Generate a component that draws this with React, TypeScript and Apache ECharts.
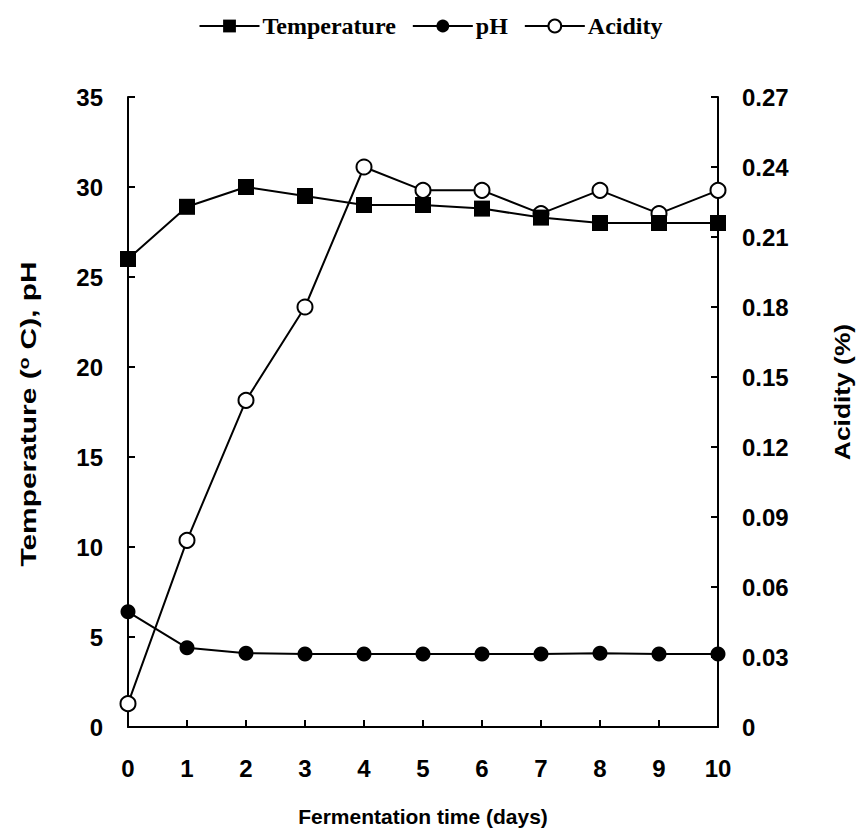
import React, { useEffect, useRef } from "react";
import * as echarts from "echarts";

const days = [0, 1, 2, 3, 4, 5, 6, 7, 8, 9, 10];
const temperature = [26, 28.9, 30, 29.5, 29, 29, 28.8, 28.3, 28, 28, 28];
const ph = [6.4, 4.4, 4.1, 4.05, 4.05, 4.05, 4.05, 4.05, 4.1, 4.05, 4.05];
const acidity = [0.01, 0.08, 0.14, 0.18, 0.24, 0.23, 0.23, 0.22, 0.23, 0.22, 0.23];

const SANS = "Liberation Sans, Arial, sans-serif";
const SERIF = "Liberation Serif, Times New Roman, serif";

export default function App() {
  const ref = useRef<HTMLDivElement>(null);
  useEffect(() => {
    if (!ref.current) return;
    const chart = echarts.init(ref.current, null, { renderer: "svg" });
    const pair = (arr: number[]) => days.map((d, i) => [d, arr[i]]);
    const axisLabel = { color: "#000", fontFamily: SANS, fontWeight: "bold" as const, fontSize: 24 };
    chart.setOption({
      animation: false,
      backgroundColor: "#fff",
      legend: {
        top: 9,
        left: "center",
        itemWidth: 60,
        itemHeight: 16,
        itemGap: 16,
        textStyle: { color: "#000", fontFamily: SERIF, fontWeight: "bold", fontSize: 24, padding: [0, 0, 0, -2] },
        data: ["Temperature", "pH", "Acidity"],
      },
      grid: { left: 128, right: 143, top: 97, bottom: 112 },
      xAxis: {
        type: "value",
        min: 0,
        max: 10,
        interval: 1,
        name: "Fermentation time (days)",
        nameLocation: "middle",
        nameGap: 79,
        nameTextStyle: { color: "#000", fontFamily: SANS, fontWeight: "bold", fontSize: 21 },
        axisLine: { lineStyle: { color: "#000", width: 2 } },
        axisTick: { inside: true, length: 7, lineStyle: { color: "#000", width: 2 } },
        axisLabel: { ...axisLabel, margin: 29 },
        splitLine: { show: false },
      },
      yAxis: [
        {
          type: "value",
          min: 0,
          max: 35,
          interval: 5,
          axisLine: { show: true, lineStyle: { color: "#000", width: 2 } },
          axisTick: { show: true, inside: true, length: 7, lineStyle: { color: "#000", width: 2 } },
          axisLabel: { ...axisLabel, margin: 25 },
          splitLine: { show: false },
        },
        {
          type: "value",
          min: 0,
          max: 0.27,
          interval: 0.03,
          position: "right",
          axisLine: { show: true, lineStyle: { color: "#000", width: 2 } },
          axisTick: { show: true, inside: true, length: 7, lineStyle: { color: "#000", width: 2 } },
          axisLabel: {
            ...axisLabel,
            margin: 24,
            formatter: (v: number) => (Math.abs(v) < 1e-9 ? "0" : v.toFixed(2)),
          },
          splitLine: { show: false },
        },
      ],
      graphic: [
        {
          type: "text",
          x: 28,
          y: 414,
          rotation: Math.PI / 2,
          scaleX: 1.36,
          style: {
            text: "Temperature ({sup|o} C), pH",
            fill: "#000",
            fontFamily: SANS,
            fontWeight: "bold",
            fontSize: 22,
            align: "center",
            verticalAlign: "middle",
            rich: {
              sup: { fontFamily: SANS, fontWeight: "bold", fontSize: 14, verticalAlign: "top", fill: "#000" },
            },
          },
        },
        {
          type: "text",
          x: 842,
          y: 392,
          rotation: Math.PI / 2,
          scaleX: 1.2,
          style: {
            text: "Acidity (%)",
            fill: "#000",
            fontFamily: SANS,
            fontWeight: "bold",
            fontSize: 22,
            align: "center",
            verticalAlign: "middle",
          },
        },
      ],
      series: [
        {
          name: "Acidity",
          type: "line",
          yAxisIndex: 1,
          data: pair(acidity),
          symbol: "circle",
          symbolSize: 15,
          lineStyle: { color: "#000", width: 2 },
          itemStyle: { color: "#fff", borderColor: "#000", borderWidth: 2 },
          z: 2,
        },
        {
          name: "Temperature",
          type: "line",
          data: pair(temperature),
          symbol: "rect",
          symbolSize: 16,
          lineStyle: { color: "#000", width: 2 },
          itemStyle: { color: "#000" },
          z: 3,
        },
        {
          name: "pH",
          type: "line",
          data: pair(ph),
          symbol: "circle",
          symbolSize: 15,
          lineStyle: { color: "#000", width: 2 },
          itemStyle: { color: "#000" },
          z: 3,
        },
      ],
    });
    return () => chart.dispose();
  }, []);
  return (
    <div
      ref={ref}
      style={{ position: "absolute", left: 0, top: 0, width: 861, height: 839 }}
    />
  );
}
